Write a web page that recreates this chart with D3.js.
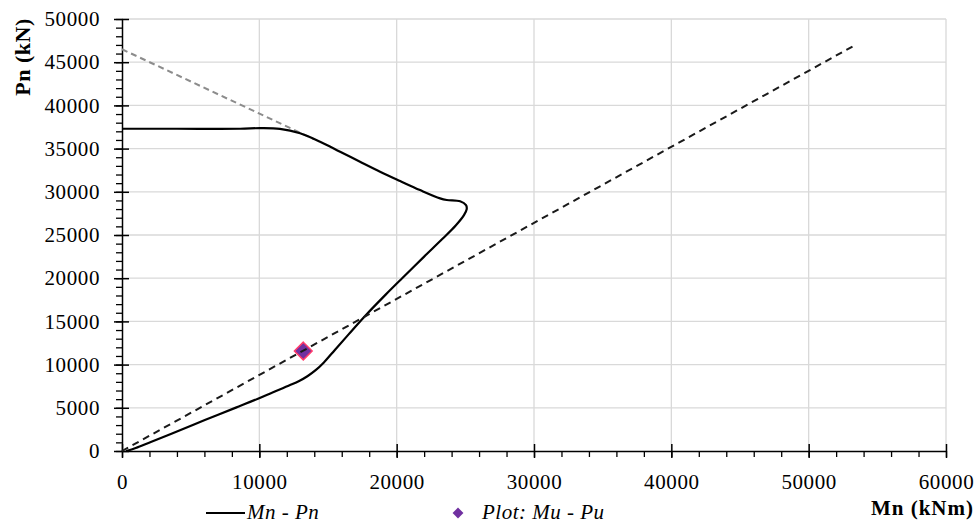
<!DOCTYPE html>
<html>
<head>
<meta charset="utf-8">
<script src="https://cdn.jsdelivr.net/npm/d3@7/dist/d3.min.js"></script>
<style>
  html, body { margin: 0; padding: 0; background: #fff; }
  svg { display: block; }
  text { font-family: "Liberation Serif", "Times New Roman", serif; fill: #000; }
</style>
</head>
<body>
<svg id="chart" width="979" height="525"></svg>
<script>
// ---- data ----
const interactionMn = [0, 4000, 8600, 10050, 11500, 12970, 14420, 15880, 17330, 18790, 20250, 21700, 23160, 23650, 24620, 25050, 25100,
  24900, 24300, 23300, 22000, 20400, 19200, 17800, 16500, 15500, 14700, 14100, 13500, 12900, 12200, 11000, 9900, 8500, 7000, 5200, 3600, 2100, 1000, 300];
const interactionPn = [37300, 37300, 37300, 37370, 37290, 36770, 35800, 34640, 33480, 32330, 31250, 30200, 29240, 29050, 28900, 28450, 28000,
  27300, 26100, 24500, 22500, 20000, 18100, 15800, 13500, 11700, 10250, 9350, 8650, 8100, 7600, 6800, 6050, 5150, 4200, 3050, 2000, 1050, 350, 0];
const capMn = [0, 14000];
const capPn = [46500, 36070];
const loadLineMn = [0, 53400];
const loadLinePn = [0, 47000];
const plotMu = [13200];
const plotPu = [11570];
const xTicks = [0, 10000, 20000, 30000, 40000, 50000, 60000];
const yTicks = [0, 5000, 10000, 15000, 20000, 25000, 30000, 35000, 40000, 45000, 50000];
const xMinorTicks = d3.range(0, 60001, 2000);
const yMinorTicks = d3.range(0, 50001, 1000);
const xLabel = "Mn (kNm)";
const yLabel = "Pn (kN)";
const legendLabels = ["Mn - Pn", "Plot: Mu - Pu"];

// ---- layout ----
const svg = d3.select("#chart");
const x = d3.scaleLinear().domain([0, 60000]).range([122, 946]);
const y = d3.scaleLinear().domain([0, 50000]).range([451, 19]);

// grid
const grid = svg.append("g");
grid.selectAll("line.vx").data(xTicks.slice(1)).join("line")
  .attr("x1", d => x(d)).attr("x2", d => x(d)).attr("y1", y(0)).attr("y2", y(50000))
  .attr("stroke", "#d9d9d9").attr("stroke-width", 1.3);
grid.selectAll("line.hy").data(yTicks.slice(1)).join("line")
  .attr("x1", x(0)).attr("x2", x(60000)).attr("y1", d => y(d)).attr("y2", d => y(d))
  .attr("stroke", "#d9d9d9").attr("stroke-width", 1.3);

// minor ticks
const xMinorAxis = svg.append("g").attr("transform", `translate(0,${y(0)})`)
  .call(d3.axisBottom(x).tickValues(xMinorTicks).tickSize(6).tickFormat(""));
xMinorAxis.select(".domain").remove();
xMinorAxis.selectAll("line").attr("stroke", "#000").attr("stroke-width", 1.3);

const yMinorAxis = svg.append("g").attr("transform", `translate(${x(0)},0)`)
  .call(d3.axisLeft(y).tickValues(yMinorTicks).tickSize(6).tickFormat(""));
yMinorAxis.select(".domain").remove();
yMinorAxis.selectAll("line").attr("x1", 1).attr("stroke", "#000").attr("stroke-width", 1.3);

// major axes
const xAxis = svg.append("g").attr("transform", `translate(0,${y(0)})`)
  .call(d3.axisBottom(x).tickValues(xTicks).tickSize(7).tickPadding(16).tickFormat(d3.format("d")).tickSizeOuter(0));
xAxis.select(".domain").attr("stroke", "#000").attr("stroke-width", 1.5);
xAxis.selectAll(".tick line").attr("y1", -7).attr("stroke", "#000").attr("stroke-width", 1.5);
xAxis.selectAll(".tick text").attr("font-size", 21).attr("letter-spacing", "0.6px")
  .style("font-family", "'Liberation Serif', serif").attr("fill", "#000");

const yAxis = svg.append("g").attr("transform", `translate(${x(0)},0)`)
  .call(d3.axisLeft(y).tickValues(yTicks).tickSize(8).tickPadding(14).tickFormat(d3.format("d")).tickSizeOuter(0));
yAxis.select(".domain").attr("stroke", "#000").attr("stroke-width", 1.5);
yAxis.selectAll(".tick line").attr("x1", 7).attr("stroke", "#000").attr("stroke-width", 1.5);
yAxis.selectAll(".tick text").attr("font-size", 21).attr("letter-spacing", "0.6px")
  .style("font-family", "'Liberation Serif', serif").attr("fill", "#000");

// axis titles
svg.append("text").attr("transform", `translate(30,57) rotate(-90)`)
  .attr("text-anchor", "middle").attr("font-size", 22).attr("font-weight", "bold")
  .attr("letter-spacing", "0.5px").text(yLabel);
svg.append("text").attr("x", 974).attr("y", 515)
  .attr("text-anchor", "end").attr("font-size", 21).attr("font-weight", "bold")
  .attr("letter-spacing", "1px").text(xLabel);

// lines
const straight = d3.line().x(d => x(d[0])).y(d => y(d[1]));
const smooth = d3.line().x(d => x(d[0])).y(d => y(d[1])).curve(d3.curveCatmullRom.alpha(0.5));

svg.append("path")
  .datum(capMn.map((m, i) => [m, capPn[i]]))
  .attr("d", straight).attr("fill", "none").attr("stroke", "#8c8c8c")
  .attr("stroke-width", 2).attr("stroke-dasharray", "6,4");

svg.append("path")
  .datum(interactionMn.map((m, i) => [m, interactionPn[i]]))
  .attr("d", smooth)
  .attr("fill", "none").attr("stroke", "#000").attr("stroke-width", 2.2)
  .attr("stroke-linejoin", "round");

// marker
const diamond = d3.symbol().type(d3.symbolDiamond2).size(200);
svg.selectAll("path.pt").data(plotMu.map((m, i) => [m, plotPu[i]])).join("path")
  .attr("d", diamond)
  .attr("transform", d => `translate(${x(d[0])},${y(d[1])})`)
  .attr("fill", "#7030a0").attr("stroke", "#ff3b6b").attr("stroke-width", 1.5);

svg.append("path")
  .datum(loadLineMn.map((m, i) => [m, loadLinePn[i]]))
  .attr("d", straight).attr("fill", "none").attr("stroke", "#1a1a1a")
  .attr("stroke-width", 2).attr("stroke-dasharray", "7,5");

// legend
const lg = svg.append("g");
lg.append("line").attr("x1", 206).attr("x2", 245).attr("y1", 513).attr("y2", 513)
  .attr("stroke", "#000").attr("stroke-width", 2.2);
lg.append("text").attr("x", 247).attr("y", 519).attr("font-size", 21).attr("font-style", "italic")
  .attr("letter-spacing", "0.5px").text(legendLabels[0]);
lg.append("path").attr("d", d3.symbol().type(d3.symbolDiamond2).size(75))
  .attr("transform", "translate(458,513)").attr("fill", "#7030a0");
lg.append("text").attr("x", 482).attr("y", 519).attr("font-size", 21).attr("font-style", "italic")
  .attr("letter-spacing", "0.5px").text(legendLabels[1]);
</script>
</body>
</html>
